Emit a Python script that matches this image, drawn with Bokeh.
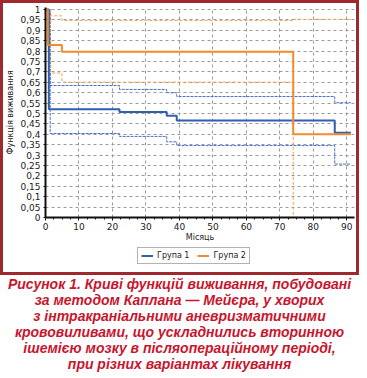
from bokeh.plotting import figure
from bokeh.layouts import column
from bokeh.models import Range1d, FixedTicker, Legend, LegendItem, Div
from bokeh.embed import file_html
from bokeh.resources import INLINE

# ---- data ----
months_g1 = [0, 1.0, 22.1, 36.2, 39.2, 86.4, 91.2]
surv_g1 = [1.0, 0.521, 0.507, 0.489, 0.466, 0.408, 0.408]
months_g1_ci = [0, 1.4, 22.1, 36.2, 39.2, 86.4, 91.2]
upper_g1 = [1.0, 0.635, 0.616, 0.600, 0.582, 0.552, 0.552]
lower_g1 = [1.0, 0.404, 0.390, 0.364, 0.346, 0.257, 0.257]

months_g2 = [0, 0.7, 4.9, 74.0, 91.2]
surv_g2 = [1.0, 0.830, 0.797, 0.400, 0.400]
months_g2_ci = [0, 1.4, 4.9, 74.0, 91.2]
upper_g2 = [1.0, 0.970, 0.947, 0.953, 0.953]
lower_g2 = [1.0, 0.695, 0.651, 0.0, 0.0]

x_ticks = [0, 10, 20, 30, 40, 50, 60, 70, 80, 90]
y_ticks = [0, 0.05, 0.1, 0.15, 0.2, 0.25, 0.3, 0.35, 0.4, 0.45, 0.5,
           0.55, 0.6, 0.65, 0.7, 0.75, 0.8, 0.85, 0.9, 0.95, 1]
y_tick_labels = ["0", "0,05", "0,1", "0,15", "0,2", "0,25", "0,3", "0,35", "0,4",
                 "0,45", "0,5", "0,55", "0,6", "0,65", "0,7", "0,75", "0,8",
                 "0,85", "0,9", "0,95", "1"]
series_names = ["Група 1", "Група 2"]
x_title = "Місяць"
y_title = "Функція виживання"
caption_lines = [
    "Рисунок 1. Криві функцій виживання, побудовані",
    "за методом Каплана — Мейєра, у хворих",
    "з інтракраніальними аневризматичними",
    "крововиливами, що ускладнились вторинною",
    "ішемією мозку в післяопераційному періоді,",
    "при різних варіантах лікування",
]

BLUE = "#2f5fae"
ORANGE = "#f28a2e"
BLUE_CI = "#4a70c6"
ORANGE_CI = "#f6a24c"
FRAME_RED = "#9e2a30"
CAPTION_RED = "#c8162e"
FONT = "DejaVu Sans"

# ---------- chart ----------
p = figure(width=353, height=241,
           x_range=Range1d(0, 92.3), y_range=Range1d(0, 1.01),
           output_backend="svg", toolbar_location=None,
           min_border_left=37, min_border_right=2,
           min_border_top=4, min_border_bottom=24)
p.outline_line_color = None
p.background_fill_color = "white"
p.border_fill_color = "white"

p.xgrid.grid_line_color = "#9a9a9a"
p.xgrid.grid_line_dash = "3 3"
p.ygrid.grid_line_color = "#9a9a9a"
p.ygrid.grid_line_dash = "3 3"

p.xaxis.ticker = FixedTicker(ticks=x_ticks, minor_ticks=[v + 2.5 * k for v in x_ticks for k in (1, 2, 3)])
p.yaxis.ticker = FixedTicker(ticks=y_ticks)
p.yaxis.major_label_overrides = dict(zip(y_ticks, y_tick_labels))
for ax in (p.xaxis, p.yaxis):
    ax.axis_line_color = "#111111"
    ax.axis_line_width = 2
    ax.major_tick_line_color = "#111111"
    ax.minor_tick_line_color = "#111111"
    ax.major_label_text_font = FONT
    ax.major_label_text_font_size = "9px"
    ax.major_label_text_color = "#222222"
    ax.axis_label_text_font = FONT
    ax.axis_label_text_font_size = "8px"
    ax.axis_label_text_font_style = "normal"
    ax.axis_label_text_color = "#222222"
p.xaxis.major_tick_out = 3
p.xaxis.major_tick_in = 0
p.xaxis.minor_tick_out = 2
p.xaxis.minor_tick_in = 0
p.xaxis.major_label_standoff = 2
p.xaxis.axis_label_standoff = 0
p.yaxis.major_tick_out = 2
p.yaxis.major_tick_in = 0
p.yaxis.minor_tick_out = 0
p.yaxis.minor_tick_in = 0
p.yaxis.major_label_standoff = 3
p.yaxis.axis_label_standoff = 2
p.xaxis.axis_label = x_title
p.yaxis.axis_label = y_title

p.step(months_g1_ci, upper_g1, mode="after", line_color=BLUE_CI, line_width=1, line_dash="3 1")
p.step(months_g1_ci, lower_g1, mode="after", line_color=BLUE_CI, line_width=1, line_dash="3 1")
p.step(months_g2_ci, upper_g2, mode="after", line_color=ORANGE_CI, line_width=1, line_dash="3 2")
p.step(months_g2_ci, lower_g2, mode="after", line_color=ORANGE_CI, line_width=1, line_dash="3 2")
p.step(months_g1, surv_g1, mode="after", line_color=BLUE, line_width=2)
p.step(months_g2, surv_g2, mode="after", line_color=ORANGE, line_width=2)

# ---------- legend strip ----------
lg = figure(width=353, height=28, x_range=Range1d(0, 1), y_range=Range1d(0, 1),
            x_axis_type=None, y_axis_type=None,
            output_backend="svg", toolbar_location=None,
            min_border_left=37, min_border_right=2,
            min_border_top=0, min_border_bottom=0)
lg.outline_line_color = None
lg.grid.visible = False
nan = float("nan")
k1 = lg.line([nan], [nan], line_color=BLUE, line_width=2)
k2 = lg.line([nan], [nan], line_color=ORANGE, line_width=2)
legend = Legend(items=[LegendItem(label=series_names[0], renderers=[k1]),
                       LegendItem(label=series_names[1], renderers=[k2])],
                orientation="horizontal", location=(92, 8),
                label_text_font=FONT, label_text_font_size="8px", label_text_color="#222222",
                glyph_width=12, glyph_height=9, label_standoff=4, spacing=8,
                padding=3, margin=0, border_line_color="#666666", border_line_width=1,
                label_height=9, background_fill_color="white")
lg.add_layout(legend)

box = column(p, lg, styles={"border": "3px solid " + FRAME_RED})

# ---------- caption ----------
caption_html = ('<div style="width:359px;text-align:center;'
                "font-family:'Liberation Sans',Arial,sans-serif;font-weight:bold;"
                "font-style:italic;font-size:14px;line-height:16px;"
                'color:' + CAPTION_RED + ';padding-top:1px;">'
                + "<br>".join(caption_lines) + "</div>")
cap = Div(text=caption_html, width=359, height=95, margin=(0, 0, 0, 0))

root = column(box, cap)
open("out.html", "w").write(file_html(root, INLINE))
